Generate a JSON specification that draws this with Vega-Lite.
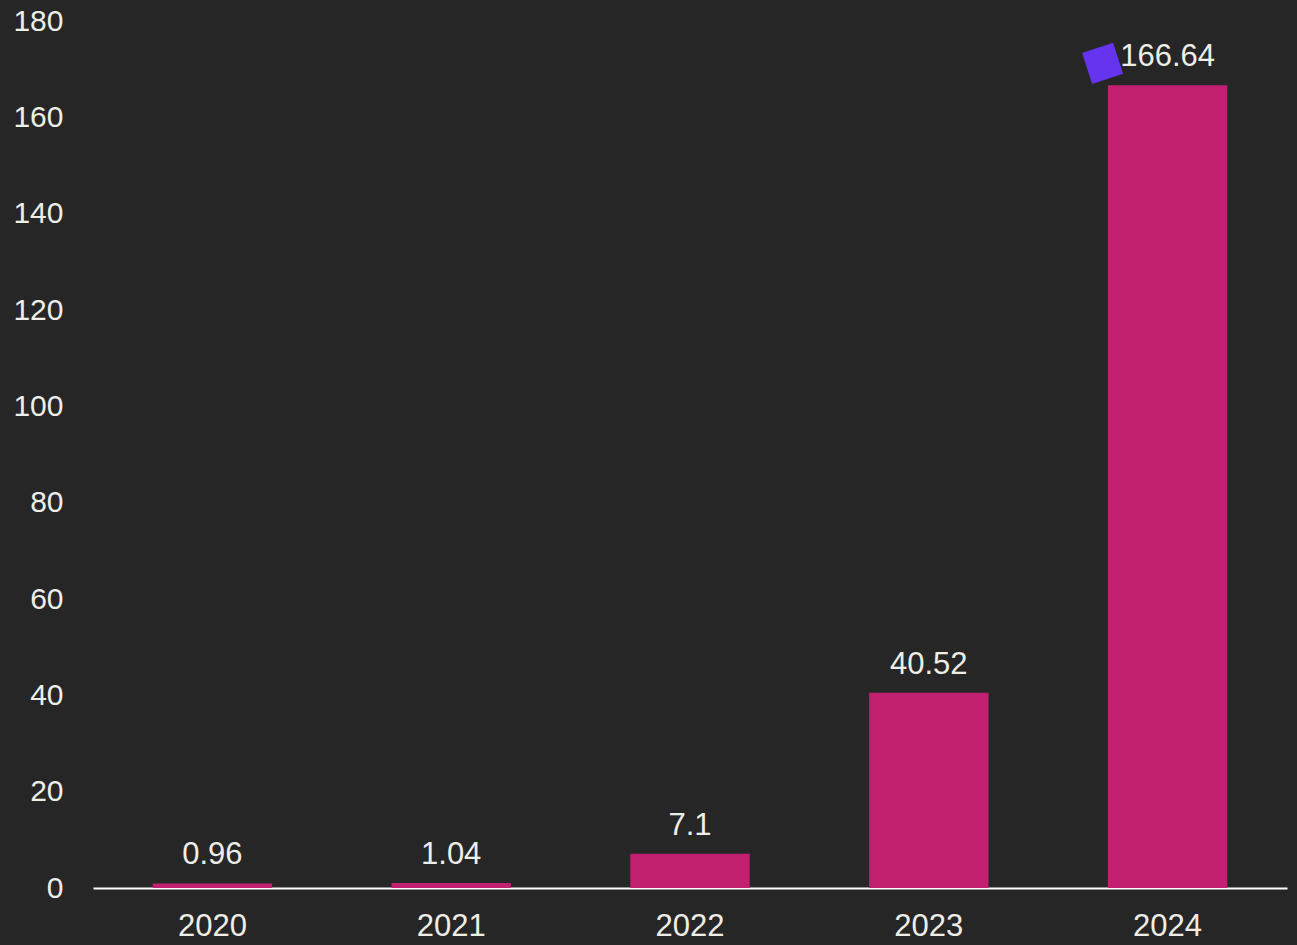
{
  "$schema": "https://vega.github.io/schema/vega-lite/v6.json",
  "width": 1194,
  "height": 867,
  "autosize": {"type": "none"},
  "padding": {"left": 93, "top": 21, "right": 10, "bottom": 57},
  "background": "#262626",
  "config": {
    "view": {"stroke": null},
    "font": "Liberation Sans",
    "axis": {"labelFont": "Liberation Sans", "labelColor": "#eeeee6", "grid": false, "title": null}
  },
  "data": {
    "values": [
      {"year": "2020", "value": 0.96},
      {"year": "2021", "value": 1.04},
      {"year": "2022", "value": 7.1},
      {"year": "2023", "value": 40.52},
      {"year": "2024", "value": 166.64}
    ]
  },
  "encoding": {
    "x": {
      "field": "year", "type": "nominal",
      "scale": {"paddingInner": 0.5, "paddingOuter": 0.25},
      "axis": {"labelAngle": 0, "labelFontSize": 31, "domainColor": "#ffffff", "domainWidth": 2, "ticks": false, "labelPadding": 23}
    },
    "y": {
      "field": "value", "type": "quantitative",
      "scale": {"domain": [0, 180]},
      "axis": {"values": [0, 20, 40, 60, 80, 100, 120, 140, 160, 180], "labelFontSize": 30, "domain": false, "ticks": false, "labelPadding": 30}
    }
  },
  "layer": [
    {"mark": {"type": "bar", "color": "#c11f70"}},
    {
      "mark": {"type": "text", "baseline": "bottom", "dy": -12, "fontSize": 31, "color": "#eeeee6"},
      "encoding": {"text": {"field": "value", "type": "quantitative"}}
    },
    {
      "data": {"values": [{"year": "2024", "value": 171.2}]},
      "mark": {"type": "point", "shape": "square", "filled": true, "opacity": 1, "size": 1060, "angle": -18, "color": "#6633ee", "xOffset": -65}
    }
  ]
}
